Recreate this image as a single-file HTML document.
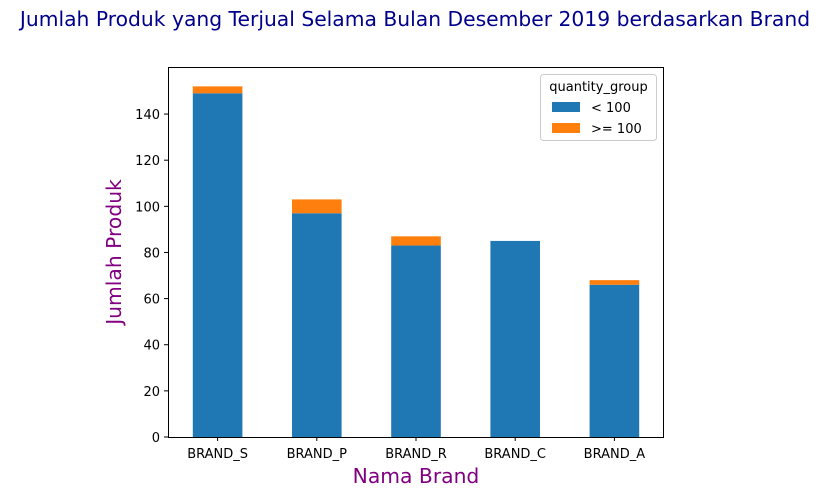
<!DOCTYPE html>
<html><head><meta charset="utf-8"><style>
body{margin:0;background:#fff;}
svg{display:block;font-family:"DejaVu Sans","Liberation Sans",sans-serif;}
</style></head><body>
<svg id="chart" width="831" height="496" viewBox="0 0 831 496">
<text x="415" y="26" text-anchor="middle" font-size="20.3" fill="#00008b">Jumlah Produk yang Terjual Selama Bulan Desember 2019 berdasarkan Brand</text>
<g id="plot"></g>
<text x="416" y="483" text-anchor="middle" font-size="20.3" fill="#800080">Nama Brand</text>
<text transform="translate(121,252) rotate(-90)" text-anchor="middle" font-size="20.3" fill="#800080">Jumlah Produk</text>
<g>
<rect x="540.5" y="74.5" width="116" height="66" rx="3" fill="#fff" stroke="#ccc"/>
<text x="598.5" y="91" text-anchor="middle" font-size="13">quantity_group</text>
<rect x="552" y="102" width="28" height="10" fill="#1f77b4"/>
<text x="591" y="112" font-size="13">&lt; 100</text>
<rect x="552" y="123" width="28" height="10" fill="#ff7f0e"/>
<text x="591" y="133" font-size="13">&gt;= 100</text>
</g>
</svg>
<script>
const categories = ["BRAND_S","BRAND_P","BRAND_R","BRAND_C","BRAND_A"];
const seriesLt100 = [149,97,83,85,66];
const seriesGte100 = [3,6,4,0,2];
const yTicks = [0,20,40,60,80,100,120,140];

const L=168,R=664,T=67,B=437,YMAX=160.4;
const ns="http://www.w3.org/2000/svg";
const g=document.getElementById('plot');
function y(v){return B-v*(B-T)/YMAX;}
function xc(i){return L+(i+0.5)*(R-L)/categories.length;}
const bw=0.5*(R-L)/categories.length;
function mk(t,a){const e=document.createElementNS(ns,t);for(const k in a)e.setAttribute(k,a[k]);g.appendChild(e);return e;}
categories.forEach((c,i)=>{
  const b1=mk('rect',{x:xc(i)-bw/2,y:y(seriesLt100[i]),width:bw,height:B-y(seriesLt100[i]),fill:'#1f77b4'});
  
  
  const top=seriesLt100[i]+seriesGte100[i];
  const b2=mk('rect',{x:xc(i)-bw/2,y:y(top),width:bw,height:y(seriesLt100[i])-y(top),fill:'#ff7f0e'});
  
  
  const tk=mk('line',{x1:xc(i),x2:xc(i),y1:B,y2:B+4,stroke:'#000'});
  
  
  const tl=mk('text',{x:xc(i),y:B+21,'text-anchor':'middle','font-size':'13'});
  tl.textContent=c;
  
  
});
yTicks.forEach(v=>{
  const tk=mk('line',{x1:L-4,x2:L,y1:y(v),y2:y(v),stroke:'#000'});
  
  
  const tl=mk('text',{x:L-8,y:y(v)+5,'text-anchor':'end','font-size':'13'});
  tl.textContent=v;
  
  
});
const fr=mk('rect',{x:L+0.5,y:T+0.5,width:R-L-1,height:B-T,fill:'none',stroke:'#000'});


</script>
</body></html>
